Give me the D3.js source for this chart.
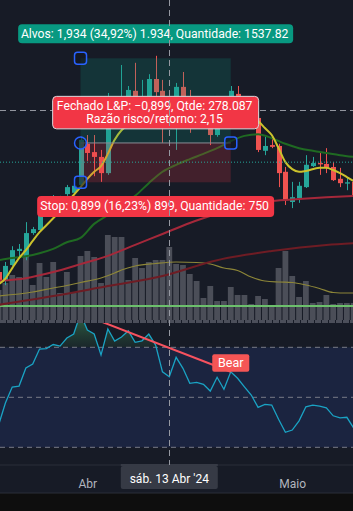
<!DOCTYPE html>
<html><head><meta charset="utf-8">
<script src="https://cdn.jsdelivr.net/npm/d3@7"></script>
<style>
html,body{margin:0;padding:0;background:#0e0e0e;}
svg{display:block;}
text{font-family:Roboto,"Noto Sans",sans-serif;}
</style></head><body>
<svg id="c" width="353" height="511"></svg>
<script>
// ---------- DATA (daily candles, first = 19 Mar 2024) ----------
const firstDay = "2024-03-19";
const opens  = [2.59,2.41,2.75,3.07,2.93,3.48,3.55,3.92,4.10,4.24,4.37,4.40,4.58,5.52,5.33,5.22,4.85,6.43,6.45,6.52,6.73,6.43,6.52,7.00,6.73,6.06,6.11,6.82,6.41,6.11,6.25,6.04,5.72,6.02,6.15,6.66,6.41,6.25,6.11,5.36,5.49,5.47,4.88,4.19,4.28,4.53,5.01,5.08,5.06,4.99,4.72,4.61,4.65];
const highs  = [2.68,2.82,3.18,3.23,3.73,3.62,4.12,4.24,4.35,4.33,4.58,4.60,5.68,5.72,5.72,5.38,6.68,6.56,7.32,6.84,7.37,6.98,7.11,7.53,6.98,6.41,6.91,7.16,6.75,6.43,6.41,6.25,6.18,6.34,6.84,6.84,6.52,6.41,6.25,5.68,5.72,5.52,4.99,4.65,4.65,5.26,5.22,5.31,5.42,5.10,4.97,4.74,4.74];
const lows   = [2.27,2.29,2.73,2.91,2.86,3.44,3.53,3.87,4.05,4.14,4.33,4.35,4.51,5.13,4.78,4.65,4.81,6.22,6.20,6.34,6.25,6.30,6.41,6.52,5.54,5.93,5.38,6.11,5.77,5.97,5.93,5.49,5.68,5.88,6.06,6.25,6.06,5.93,5.33,5.26,5.42,4.53,4.12,4.05,4.17,4.51,4.99,4.81,4.85,4.67,4.53,4.46,4.30];
const closes = [2.36,2.73,3.09,3.12,3.48,3.57,3.94,4.10,4.26,4.30,4.53,4.56,5.61,5.31,5.22,4.85,6.43,6.48,6.55,6.75,6.43,6.52,7.00,6.70,6.06,6.25,6.82,6.29,6.11,6.25,6.06,5.72,6.02,6.15,6.73,6.41,6.18,6.06,5.38,5.47,5.45,4.85,4.24,4.30,4.56,5.04,5.08,5.05,4.97,4.69,4.62,4.64,4.35];
const volumes = [16,19.5,23.5,22.5,36,18.5,29.5,22.5,30,14.5,25,14.5,33,35.5,32.5,19.5,43.5,42.5,42.5,21,32,27,30,31,31,37.5,29,28.5,24,20.5,12,18,10.5,10.5,17.5,13.5,13.5,9,13,11.5,8.5,27,35.5,23,12.5,20.5,9.5,10,13.5,9,9.5,9.5,9.5];
const rsiValues = [38.9,47.7,54.1,54.5,61.7,63.3,69.3,69.5,71.1,70.5,73.7,75.3,83.5,76.9,75.3,66.9,77.3,72.5,74.1,76.6,72.0,72.6,75.3,70.9,60.2,58.2,66.0,61.6,55.6,56.0,55.2,52.5,58.0,53.2,60.2,57.6,54.2,50.9,46.0,47.2,46.9,41.2,36.0,36.9,40.6,46.2,46.9,46.5,45.8,42.6,41.8,42.0,37.7];
// moving averages: [candle index, value]
const maFast = [[0,2.31],[1,2.44],[2,2.68],[3,2.91],[4,3.09],[5,3.30],[6,3.50],[7,3.66],[8,3.82],[9,3.98],[10,4.17],[11,4.35],[12,4.53],[13,4.72],[14,4.88],[15,5.01],[16,5.29],[17,5.61],[18,5.83],[19,5.95],[21,6.13],[23,6.25],[27,6.29],[31,6.25],[35,6.25],[37,6.15],[38,6.04],[39,5.88],[40,5.72],[41,5.42],[42,5.10],[43,4.94],[44,4.88],[45,4.90],[47,4.97],[48,4.97],[49,4.92],[50,4.85],[51,4.76],[52,4.67]];
const maMid = [[0,2.86],[2,2.91],[4,2.95],[6,3.02],[8,3.12],[10,3.27],[12,3.37],[14,3.69],[16,3.89],[18,4.10],[20,4.33],[22,4.62],[24,4.88],[26,5.04],[28,5.17],[30,5.29],[32,5.42],[34,5.58],[36,5.70],[38,5.74],[40,5.65],[42,5.52],[44,5.42],[46,5.36],[48,5.31],[50,5.26],[52,5.22]];
const maSlow = [[0,2.39],[4,2.45],[8,2.59],[12,2.77],[16,2.96],[20,3.21],[24,3.46],[28,3.71],[32,3.92],[36,4.10],[40,4.21],[44,4.26],[48,4.30],[52,4.33]];
const maLong = [[0,1.84],[8,2.04],[16,2.27],[24,2.50],[32,2.86],[40,3.07],[48,3.21],[52,3.25]];
const volMA = [[0,13],[5,15],[8,17],[10,18.25],[12,19.75],[15,22],[17,24.5],[18,26],[20,28],[23,29.25],[26,30],[29,29.75],[31,29],[33,27],[35,25.75],[37,22.5],[39,20.5],[41,20],[43,19.75],[45,18.5],[47,16.75],[49,14.75],[51,14.5],[52,14.5]];
const volLevel = 8;
// position tool
const entryPrice = 5.539, targetPrice = 7.473, stopPrice = 4.640;
const posStart = "2024-03-31", posEnd = "2024-04-22";
const lastPriceLine = 5.10;
const crossDate = "2024-04-13", crossPrice = 6.28;
const targetText = "Alvos: 1,934 (34,92%) 1.934, Quantidade: 1537.82";
const closedText = ["Fechado L&P: \u22120,899, Qtde: 278.087", "Razão risco/retorno: 2,15"];
const stopText = "Stop: 0,899 (16,23%) 899, Quantidade: 750";
const crossLabel = "sáb. 13 Abr '24";
const monthTicks = ["2024-04-01","2024-05-01"];
const monthNames = ["Abr","Maio"];
const bearFrom = 12, bearTo = 34;  // RSI indices of divergence line
const rsiLevels = [70,50,30];

// ---------- CHART ----------
const W=353;
const parse = s => new Date(s+"T00:00:00Z");
const t0 = parse(firstDay);
const dates = opens.map((_,i)=> d3.utcDay.offset(t0,i));
const candles = dates.map((d,i)=>({d,o:opens[i],h:highs[i],l:lows[i],c:closes[i],v:volumes[i],r:rsiValues[i]}));

const x = d3.scaleUtc().domain([parse("2024-03-20"),parse("2024-04-13")]).range([5.4,169.3]);
const step = x(dates[1])-x(dates[0]);
const y = d3.scaleLinear().domain([stopPrice,targetPrice]).range([182.3,58.3]);
const yv = d3.scaleLinear().domain([0,50]).range([322,222]);
const yr = d3.scaleLinear().domain([30,70]).range([447.3,347.3]);

const svg = d3.select("#c");
const defs = svg.append("defs");
defs.append("clipPath").attr("id","mainClip").append("rect").attr("x",0).attr("y",0).attr("width",W).attr("height",320);
defs.append("clipPath").attr("id","rsiClip").append("rect").attr("x",0).attr("y",323).attr("width",W).attr("height",141);
defs.append("clipPath").attr("id","obClip").append("rect").attr("x",0).attr("y",323).attr("width",W).attr("height",yr(70)-323);
const g1 = defs.append("linearGradient").attr("id","obGrad").attr("gradientUnits","userSpaceOnUse").attr("x1",0).attr("x2",0).attr("y1",320).attr("y2",yr(70));
g1.append("stop").attr("offset",0).attr("stop-color","#3d8c55").attr("stop-opacity",0.55);
g1.append("stop").attr("offset",1).attr("stop-color","#2e6b45").attr("stop-opacity",0.15);

// backgrounds
svg.append("rect").attr("width",W).attr("height",493).attr("fill","#171b26");
svg.append("rect").attr("y",493).attr("width",W).attr("height",18).attr("fill","#0e0e0e");

const main = svg.append("g").attr("clip-path","url(#mainClip)");
// volume
main.append("g").selectAll("rect").data(candles).join("rect")
  .attr("x",d=>x(d.d)-2.9).attr("width",5.8)
  .attr("y",d=>yv(d.v)).attr("height",d=>yv(0)-yv(d.v))
  .attr("fill","#4b4e58");
const lineIdx = d3.line().x(p=>x(dates[p[0]])).y(p=>p[2]).curve(d3.curveMonotoneX);
function drawMA(arr, scale, color, w){
  main.append("path").attr("d", d3.line().x(p=>x(dates[p[0]])).y(p=>scale(p[1])).curve(d3.curveMonotoneX)(arr))
   .attr("fill","none").attr("stroke",color).attr("stroke-width",w);
}
drawMA(volMA, yv, "#8d8638", 1.2);
main.append("line").attr("x1",0).attr("x2",W).attr("y1",yv(volLevel)).attr("y2",yv(volLevel)).attr("stroke","#6cbf6c").attr("stroke-width",2);

// candles
const cg = main.append("g");
cg.selectAll("line").data(candles).join("line")
  .attr("x1",d=>Math.round(x(d.d))+0.5).attr("x2",d=>Math.round(x(d.d))+0.5)
  .attr("y1",d=>y(d.h)).attr("y2",d=>y(d.l))
  .attr("stroke",d=>d.c>=d.o?"#26a69a":"#ef5350").attr("stroke-width",1);
cg.selectAll("rect").data(candles).join("rect")
  .attr("x",d=>Math.round(x(d.d))+0.5-2.5).attr("width",5)
  .attr("y",d=>y(Math.max(d.o,d.c))).attr("height",d=>Math.max(1,Math.abs(y(d.o)-y(d.c))))
  .attr("fill",d=>d.c>=d.o?"#26a69a":"#ef5350");

drawMA(maLong, y, "#6e1c24", 2);
drawMA(maSlow, y, "#a5283a", 2);
drawMA(maMid, y, "#1f6a22", 2);
drawMA(maFast, y, "#cbc22c", 2);

// position tool
const px0 = x(parse(posStart)), px1 = x(parse(posEnd));
main.append("rect").attr("x",px0).attr("width",px1-px0).attr("y",y(targetPrice)).attr("height",y(entryPrice)-y(targetPrice)).attr("fill","#089981").attr("fill-opacity",0.2);
main.append("rect").attr("x",px0).attr("width",px1-px0).attr("y",y(entryPrice)).attr("height",y(stopPrice)-y(entryPrice)).attr("fill","#f23645").attr("fill-opacity",0.2);
main.append("line").attr("x1",px0).attr("x2",px1).attr("y1",y(entryPrice)).attr("y2",y(entryPrice)).attr("stroke","#8a8d96").attr("stroke-width",1);

// last price dotted line & horizontal crosshair
main.append("line").attr("x1",0).attr("x2",W).attr("y1",y(lastPriceLine)).attr("y2",y(lastPriceLine)).attr("stroke","#26a69a").attr("stroke-dasharray","1,2");
main.append("line").attr("x1",0).attr("x2",W).attr("y1",y(crossPrice)).attr("y2",y(crossPrice)).attr("stroke","#9598a1").attr("stroke-dasharray","6,4");

// handles
function sq(cx,cy){ svg.append("rect").attr("x",cx-6).attr("y",cy-6).attr("width",12).attr("height",12).attr("rx",3).attr("fill","#131722").attr("fill-opacity",0.6).attr("stroke","#2962ff").attr("stroke-width",1.5); }
sq(px0, y(targetPrice));
sq(px0, y(stopPrice));
sq(px1, y(entryPrice));
svg.append("circle").attr("cx",px0).attr("cy",y(entryPrice)).attr("r",6).attr("fill","#131722").attr("fill-opacity",0.6).attr("stroke","#2962ff").attr("stroke-width",1.5);

// labels
const cx = (px0+px1)/2;
function label(top,h,w,fill,lines,stroke){
  svg.append("rect").attr("x",cx-w/2).attr("y",top).attr("width",w).attr("height",h).attr("rx",4)
    .attr("fill",fill).attr("stroke",stroke||"none").attr("stroke-width",1);
  lines.forEach((t,i)=>{
    svg.append("text").attr("x",cx-1).attr("y",top+14+i*12.5).attr("text-anchor","middle")
      .attr("fill","#ffffff").attr("font-size","12.2px").text(t);
  });
}
label(y(targetPrice)-34, 19, 275, "#089981", [targetText]);
label(y(entryPrice)-46.6, 32.5, 206, "#f23645", closedText, "#d8d8dc");
label(y(stopPrice)+13.7, 21, 237, "#f23645", [stopText]);

// pane separator
svg.append("line").attr("x1",0).attr("x2",W).attr("y1",321.5).attr("y2",321.5).attr("stroke","#4c4f5a").attr("stroke-width",3).attr("stroke-dasharray","6,1");

// RSI pane
const rg = svg.append("g").attr("clip-path","url(#rsiClip)");
rg.append("rect").attr("x",0).attr("width",W).attr("y",yr(70)).attr("height",yr(30)-yr(70)).attr("fill","#1b2440");
rg.append("path").attr("clip-path","url(#obClip)")
  .attr("d", d3.area().x(d=>x(d.d)).y0(yr(70)).y1(d=>yr(d.r))(candles))
  .attr("fill","url(#obGrad)");
rsiLevels.forEach(l=>{
  rg.append("line").attr("x1",0).attr("x2",W).attr("y1",yr(l)).attr("y2",yr(l)).attr("stroke","#787b86").attr("stroke-dasharray","5,4");
});
rg.append("path").attr("d", d3.line().x(d=>x(d.d)).y(d=>yr(d.r))(candles))
  .attr("fill","none").attr("stroke","#1aa3c4").attr("stroke-width",1.3);
const b0 = candles[bearFrom], b1 = candles[bearTo];
rg.append("line").attr("x1",x(b0.d)).attr("y1",yr(b0.r)).attr("x2",x(b1.d)).attr("y2",yr(b1.r))
  .attr("stroke","#f7525f").attr("stroke-width",2);
rg.append("rect").attr("x",x(b1.d)-18.5).attr("y",yr(b1.r)-17.5).attr("width",37).attr("height",17.5).attr("rx",2).attr("fill","#f55555");
rg.append("text").attr("x",x(b1.d)).attr("y",yr(b1.r)-4.5).attr("text-anchor","middle").attr("fill","#fff").attr("font-size","12.5px").text("Bear");

// time axis
svg.append("line").attr("x1",0).attr("x2",W).attr("y1",465).attr("y2",465).attr("stroke","#2a2e39");
svg.append("line").attr("x1",0).attr("x2",W).attr("y1",493).attr("y2",493).attr("stroke","#2a2e39");
const ax = svg.append("g").attr("transform","translate(0,467)")
  .call(d3.axisBottom(x).tickValues(monthTicks.map(parse)).tickSize(0).tickPadding(12)
    .tickFormat((d,i)=>monthNames[i]));
ax.select(".domain").remove();
ax.selectAll("text").attr("fill","#b2b5be").attr("font-size","12px").attr("font-family","Roboto,sans-serif");

const cxd = x(parse(crossDate));
svg.append("line").attr("x1",cxd-48.5).attr("x2",cxd+48.5).attr("y1",465).attr("y2",465).attr("stroke","#4c505c");
svg.append("rect").attr("x",cxd-48.5).attr("y",466).attr("width",97).attr("height",23).attr("rx",2).attr("fill","#363a45");
svg.append("text").attr("x",cxd).attr("y",483).attr("text-anchor","middle").attr("fill","#ffffff").attr("font-size","12px").text(crossLabel);

// vertical crosshair
svg.append("line").attr("x1",Math.round(cxd)+0.5).attr("x2",Math.round(cxd)+0.5).attr("y1",0).attr("y2",465)
  .attr("stroke","#9598a1").attr("stroke-dasharray","6,4");
</script>
</body></html>
